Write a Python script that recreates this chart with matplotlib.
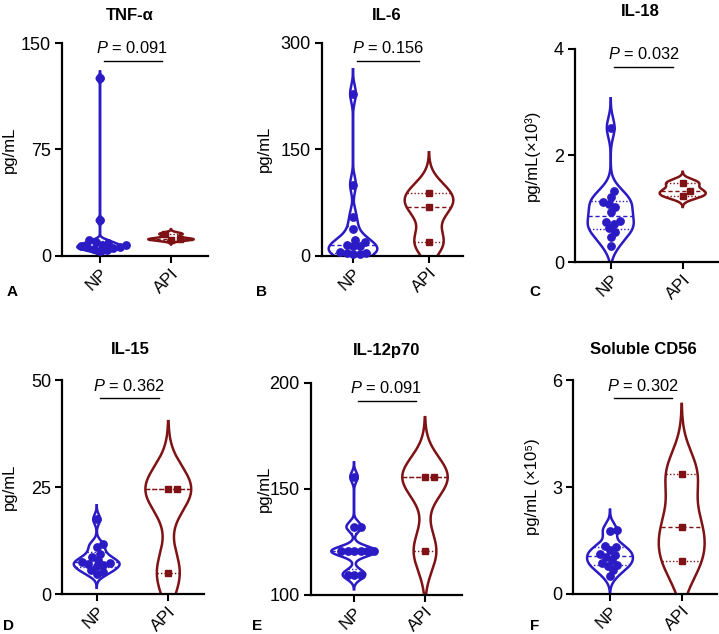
import numpy as np
import matplotlib
matplotlib.use('Agg')
import matplotlib.pyplot as plt

plt.rcParams['font.family'] = ['Liberation Sans', 'DejaVu Sans']
plt.rcParams['mathtext.fontset'] = 'custom'
plt.rcParams['mathtext.it'] = 'Liberation Sans:italic'
plt.rcParams['mathtext.rm'] = 'Liberation Sans'

# ---------------- data ----------------
groups = ['NP', 'API']
titles = ['TNF-α', 'IL-6', 'IL-18', 'IL-15', 'IL-12p70', 'Soluble CD56']
panel_letters = ['A', 'B', 'C', 'D', 'E', 'F']
p_values = ['0.091', '0.156', '0.032', '0.362', '0.091', '0.302']
ylabels = ['pg/mL', 'pg/mL', 'pg/mL(×10³)', 'pg/mL', 'pg/mL', 'pg/mL (×10⁵)']
yticks = [[0, 75, 150], [0, 150, 300], [0, 2, 4], [0, 25, 50], [100, 150, 200], [0, 3, 6]]

tnf_np = [125, 25, 11, 10, 9, 8, 7.5, 7, 6.5, 6, 5.5, 5, 4.5, 3.5]
tnf_api = [11.5, 12, 15.5]
il6_np = [228, 100, 55, 37, 22, 19, 15, 14, 13, 5, 4, 3.5, 3, 2]
il6_api = [19, 68, 89]
il18_np = [2.52, 1.34, 1.23, 1.13, 1.10, 1.04, 0.95, 0.78, 0.75, 0.72, 0.64, 0.57, 0.47, 0.31]
il18_api = [1.24, 1.34, 1.49]
il15_np = [17.5, 11.8, 11.0, 9.5, 8.8, 8.0, 7.6, 7.3, 7.0, 6.8, 6.5, 5.6, 5.2, 4.8]
il15_api = [5.0, 24.6, 24.6]
il12_np = [155.5, 132, 132, 120.5, 120.5, 120.5, 120.5, 120.5, 120.5, 109.5, 109.5, 109.5]
il12_api = [120.6, 155.5, 155.5]
cd56_np = [1.80, 1.76, 1.33, 1.31, 1.22, 1.12, 1.10, 1.03, 0.94, 0.87, 0.80, 0.79, 0.66, 0.49]
cd56_api = [0.92, 1.87, 3.36]

np_series = [tnf_np, il6_np, il18_np, il15_np, il12_np, cd56_np]
api_series = [tnf_api, il6_api, il18_api, il15_api, il12_api, cd56_api]

# ---------------- style / layout ----------------
W, H = 719, 634
NP_COLOR = '#2B1BC4'
API_COLOR = '#7E1214'
colors = [NP_COLOR, API_COLOR]
markers = ['o', 's']

# pixel boxes: left, right, top, bottom, x of NP, x of API
boxes = [
    (62, 208, 43, 256, 100, 171),
    (321.7, 463, 42.7, 255.7, 353, 429),
    (575, 718, 48.7, 262.3, 610.7, 682.7),
    (62.3, 204, 380.3, 594.3, 96.7, 168.3),
    (310.7, 461.7, 382.7, 594.7, 354, 425),
    (573.3, 717.3, 380.3, 593.7, 610, 681.7),
]
title_pos = [(130, 15), (387, 15), (640, 12), (130, 350), (387, 350), (643, 349)]
letter_pos = [(11.7, 292), (261.7, 292), (535, 292), (8.5, 626), (256.7, 626), (535, 626)]
ylabel_x = [17, 272, 540, 17, 272, 540]


def kde(vals):
    v = np.asarray(vals, float)
    n = len(v)
    sd = v.std(ddof=1)
    q75, q25 = np.percentile(v, [75, 25])
    iqr = (q75 - q25) / 1.34
    s = min(sd, iqr) if iqr > 0 else sd
    h = 0.9 * s * n ** -0.2
    grid = np.linspace(v.min() - 3 * h, v.max() + 3 * h, 3000)
    dens = np.exp(-0.5 * ((grid[:, None] - v[None, :]) / h) ** 2).sum(1)
    return grid, dens / dens.max()


def swarm(vals, pos, ppy, ppx, d=7.0):
    """Greedy beeswarm in pixel space; returns x positions in data units."""
    v = np.asarray(vals, float)
    ypx = v * ppy
    order = np.argsort(v)
    placed = []
    xs = np.zeros(len(v))
    step = 0.5
    cands = [0.0]
    for m in range(1, 200):
        cands += [m * step, -m * step]
    for i in order:
        for c in cands:
            ok = True
            for (px, py) in placed:
                if (px - c) ** 2 + (py - ypx[i]) ** 2 < d * d - 1e-6:
                    ok = False
                    break
            if ok:
                placed.append((c, ypx[i]))
                xs[i] = pos + c / ppx
                break
    return xs


fig = plt.figure(figsize=(W / 100, H / 100), dpi=100)
HALF = 0.32

for k in range(6):
    L, R, T, B, xnp, xapi = boxes[k]
    ax = fig.add_axes([L / W, 1 - B / H, (R - L) / W, (B - T) / H])
    ppx = xapi - xnp
    ax.set_xlim((L - xnp) / ppx, (R - xnp) / ppx)
    yt = yticks[k]
    ax.set_ylim(yt[0], yt[-1])
    ppy = (B - T) / (yt[-1] - yt[0])

    for g, vals in enumerate([np_series[k], api_series[k]]):
        c = colors[g]
        grid, dens = kde(vals)
        w = dens * HALF
        ax.plot(g - w, grid, color=c, lw=1.8, zorder=2, solid_joinstyle='round')
        ax.plot(g + w, grid, color=c, lw=1.8, zorder=2, solid_joinstyle='round')
        q1, med, q3 = np.percentile(vals, [25, 50, 75], method='weibull')
        for q, ls in [(q1, (0, (1, 1.5))), (q3, (0, (1, 1.5))), (med, (0, (3, 2)))]:
            wq = np.interp(q, grid, w)
            ax.plot([g - wq, g + wq], [q, q], color=c, lw=1.0, linestyle=ls, zorder=2.5)
        xs = swarm(vals, g, ppy, ppx, d=6.5 if g == 0 else 8.5)
        ax.plot(xs, vals, linestyle='none', marker=markers[g], color=c,
                markersize=5.3 if g == 0 else 5.0, zorder=3, clip_on=False)

    # significance bar and text
    yr = yt[-1] - yt[0]
    ax.plot([0.05, 0.87], [yt[0] + 0.915 * yr] * 2, color='black', lw=1.0, clip_on=False)
    ax.text(0.455, yt[0] + 0.975 * yr, '$P$ = ' + p_values[k], ha='center', va='center',
            fontsize=11.8)

    ax.spines['top'].set_visible(False)
    ax.spines['right'].set_visible(False)
    for s in ['left', 'bottom']:
        ax.spines[s].set_linewidth(1.6)
    ax.set_yticks(yt)
    ax.set_xticks([0, 1])
    ax.set_xticklabels(groups, rotation=45, ha='right', rotation_mode='anchor')
    ax.tick_params(axis='both', direction='out', length=5, width=1.5, labelsize=13, pad=3)
    ax.tick_params(axis='x', labelsize=12.3, pad=2)
    ax.set_ylabel(ylabels[k], fontsize=12)
    ax.yaxis.set_label_coords((ylabel_x[k] - L) / (R - L), 0.5)

    tx, ty = title_pos[k]
    fig.text(tx / W, 1 - ty / H, titles[k], ha='center', va='center', fontsize=12,
             fontweight='bold')
    lx, ly = letter_pos[k]
    fig.text(lx / W, 1 - ly / H, panel_letters[k], ha='center', va='center', fontsize=11,
             fontweight='bold')

fig.savefig('out.png', dpi=100)
